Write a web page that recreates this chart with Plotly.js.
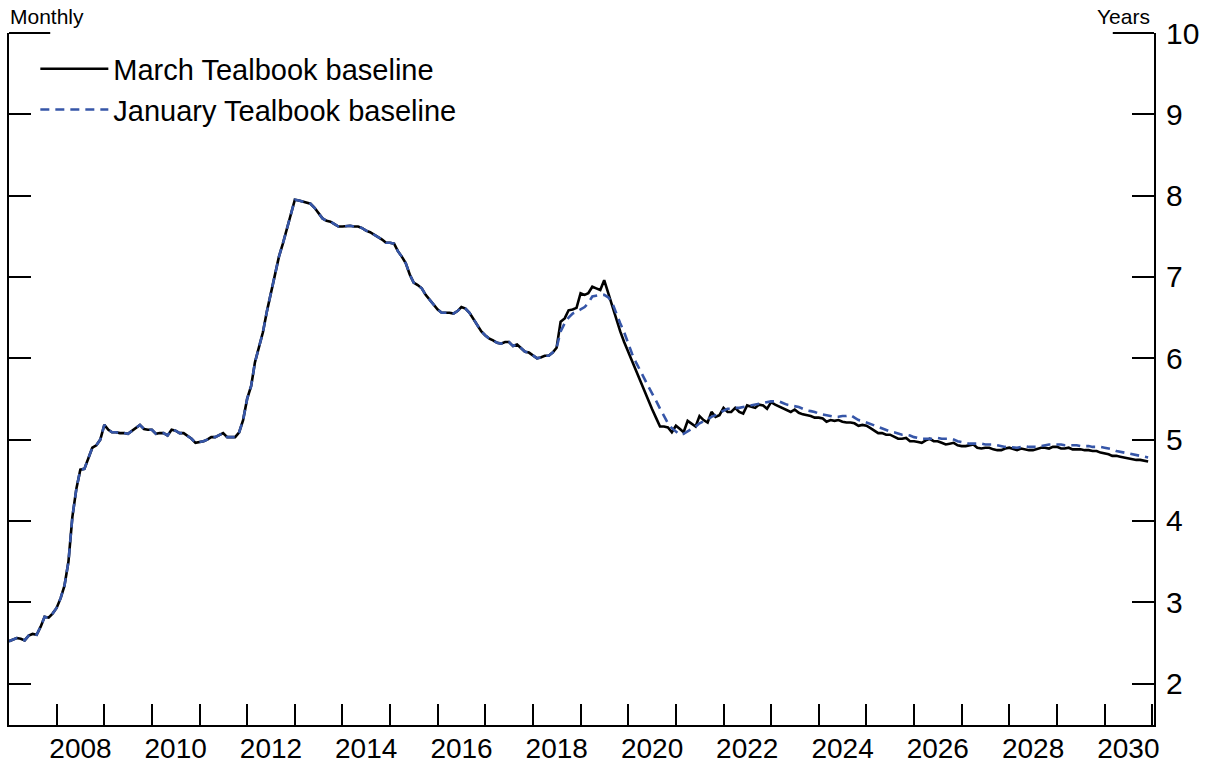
<!DOCTYPE html>
<html>
<head>
<meta charset="utf-8">
<script src="https://cdn.plot.ly/plotly-3.0.1.min.js"></script>
<style>
  html, body { margin: 0; padding: 0; background: #fff; }
  #chart { width: 1218px; height: 765px; }
</style>
</head>
<body>
<div id="chart"></div>
<script>
// Monthly series, first observation January 2007 (years).
const startYear = 2007;

// Common history, Jan 2007 - Jul 2018
const history = [
  2.52, 2.54, 2.56, 2.55, 2.53, 2.59, 2.61, 2.60, 2.70, 2.82, 2.81, 2.86,
  2.93, 3.05, 3.20, 3.50, 4.05, 4.40, 4.63, 4.64, 4.78, 4.90, 4.93, 5.00,
  5.18, 5.12, 5.09, 5.09, 5.08, 5.08, 5.07, 5.11, 5.15, 5.18, 5.13, 5.12,
  5.12, 5.07, 5.08, 5.08, 5.05, 5.12, 5.11, 5.08, 5.08, 5.05, 5.01, 4.96,
  4.97, 4.98, 5.00, 5.03, 5.03, 5.06, 5.08, 5.03, 5.03, 5.03, 5.09, 5.24,
  5.50, 5.66, 5.95, 6.15, 6.32, 6.58, 6.80, 7.00, 7.25, 7.41, 7.60, 7.78,
  7.95, 7.94, 7.93, 7.92, 7.90, 7.85, 7.78, 7.72, 7.69, 7.68, 7.65, 7.62,
  7.62, 7.63, 7.63, 7.62, 7.62, 7.60, 7.57, 7.55, 7.52, 7.50, 7.46, 7.42,
  7.42, 7.41, 7.32, 7.25, 7.17, 7.03, 6.93, 6.90, 6.86, 6.78, 6.72, 6.66,
  6.60, 6.56, 6.56, 6.56, 6.55, 6.58, 6.63, 6.61, 6.56, 6.48, 6.40, 6.33,
  6.28, 6.24, 6.22, 6.19, 6.18, 6.20, 6.20, 6.15, 6.17, 6.12, 6.08, 6.07,
  6.04, 6.00, 6.01, 6.03, 6.03, 6.07, 6.13
];

// March Tealbook baseline, Aug 2018 - Dec 2030
const marchProjection = [
  6.45, 6.49, 6.59, 6.60, 6.62,
  6.80, 6.78, 6.80, 6.88, 6.86, 6.84, 6.96, 6.80, 6.62, 6.48, 6.33, 6.20,
  6.08, 5.96, 5.83, 5.72, 5.61, 5.48, 5.38, 5.27, 5.16, 5.16, 5.15, 5.09,
  5.17, 5.13, 5.09, 5.23, 5.20, 5.16, 5.29, 5.24, 5.21, 5.34, 5.28, 5.30,
  5.39, 5.34, 5.34, 5.39, 5.34, 5.32, 5.42, 5.40, 5.39, 5.43, 5.42, 5.38,
  5.46, 5.43, 5.41, 5.39, 5.36, 5.34, 5.37, 5.33, 5.31, 5.30, 5.29, 5.27,
  5.27, 5.26, 5.22, 5.24, 5.23, 5.24, 5.22, 5.21, 5.21, 5.20, 5.17, 5.18,
  5.17, 5.14, 5.11, 5.08, 5.08, 5.06, 5.06, 5.04, 5.01, 5.01, 5.02, 4.98,
  4.98, 4.97, 4.96, 4.99, 5.01, 4.98, 4.98, 4.96, 4.94, 4.95, 4.96, 4.93,
  4.92, 4.92, 4.93, 4.94, 4.90, 4.89, 4.90, 4.90, 4.88, 4.87, 4.87, 4.89,
  4.90, 4.88, 4.87, 4.89, 4.88, 4.87, 4.87, 4.89, 4.90, 4.90, 4.89, 4.91,
  4.91, 4.89, 4.89, 4.90, 4.88, 4.88, 4.88, 4.87, 4.87, 4.86, 4.86, 4.84,
  4.83, 4.82, 4.80, 4.80, 4.79, 4.78, 4.77, 4.76, 4.75, 4.75, 4.74, 4.73
];

// January Tealbook baseline, Aug 2018 - Dec 2030
const januaryProjection = [
  6.33, 6.43, 6.50, 6.55, 6.57,
  6.60, 6.63, 6.68, 6.76, 6.77, 6.78, 6.78, 6.75, 6.68, 6.55, 6.43, 6.32,
  6.18, 6.05, 5.95, 5.86, 5.76, 5.66, 5.58, 5.48, 5.38, 5.30, 5.20, 5.14,
  5.10, 5.06, 5.07, 5.10, 5.13, 5.16, 5.20, 5.22, 5.25, 5.28, 5.30, 5.33,
  5.36, 5.38, 5.38, 5.39, 5.39, 5.40, 5.41, 5.42, 5.43, 5.44, 5.45, 5.46,
  5.47, 5.47, 5.47, 5.45, 5.43, 5.42, 5.41, 5.40, 5.38, 5.36, 5.35, 5.34,
  5.32, 5.31, 5.30, 5.29, 5.28, 5.28, 5.29, 5.29, 5.30, 5.27, 5.24, 5.23,
  5.21, 5.19, 5.17, 5.15, 5.14, 5.12, 5.10, 5.09, 5.07, 5.06, 5.06, 5.05,
  5.03, 5.02, 5.01, 5.01, 5.01, 5.01, 5.02, 5.01, 5.01, 5.01, 5.00, 4.98,
  4.97, 4.96, 4.95, 4.95, 4.95, 4.95, 4.94, 4.94, 4.94, 4.93, 4.92, 4.91,
  4.91, 4.90, 4.90, 4.91, 4.92, 4.91, 4.91, 4.91, 4.92, 4.93, 4.94, 4.94,
  4.94, 4.94, 4.93, 4.93, 4.93, 4.93, 4.92, 4.92, 4.92, 4.91, 4.91, 4.91,
  4.90, 4.89, 4.88, 4.86, 4.85, 4.84, 4.83, 4.82, 4.81, 4.80, 4.79, 4.78
];

const seriesNames = ['March Tealbook baseline', 'January Tealbook baseline'];
const labelYears = [2008, 2010, 2012, 2014, 2016, 2018, 2020, 2022, 2024, 2026, 2028, 2030];
const yTicks = [2, 3, 4, 5, 6, 7, 8, 9, 10];

const march = history.concat(marchProjection);
const january = history.concat(januaryProjection);

function monthDate(i) {
  const y = startYear + Math.floor(i / 12);
  const m = (i % 12) + 1;
  return y + '-' + String(m).padStart(2, '0') + '-01';
}
const dates = march.map((_, i) => monthDate(i));

// year-start tick marks, labels centred mid-year
const yearStarts = [];
for (let y = startYear + 1; y <= 2031; y++) yearStarts.push(y + '-01-01');
const labelPos = labelYears.map(y => y + '-07-02');

const font = 'Liberation Sans, Arial, Helvetica, sans-serif';

const traces = [
  {
    x: dates, y: march, name: seriesNames[0], type: 'scatter', mode: 'lines',
    line: { color: '#000000', width: 2.6 }
  },
  {
    x: dates, y: january, name: seriesNames[1], type: 'scatter', mode: 'lines',
    line: { color: '#3656a8', width: 2.6, dash: '9px,6px' }
  }
];

const layout = {
  width: 1218, height: 765,
  margin: { l: 9, r: 64, t: 33, b: 40 },
  paper_bgcolor: '#fff', plot_bgcolor: '#fff',
  font: { family: font, color: '#000' },
  showlegend: true,
  legend: {
    x: 0.023, y: 0.985, xanchor: 'left', yanchor: 'top',
    bgcolor: 'rgba(0,0,0,0)', borderwidth: 0,
    font: { size: 29, family: font },
    itemwidth: 68, tracegroupgap: 0
  },
  xaxis: {
    type: 'date',
    range: ['2007-01-01', '2031-01-15'],
    showgrid: false, zeroline: false,
    showline: true, linecolor: '#000', linewidth: 2,
    tickmode: 'array', tickvals: labelPos, ticktext: labelYears.map(String),
    ticks: '', ticklen: 0,
    tickfont: { size: 28, family: font },
    ticklabelstandoff: -3,
    minor: {
      tickmode: 'array', tickvals: yearStarts,
      ticks: 'inside', ticklen: 21, tickwidth: 2, tickcolor: '#000',
      showgrid: false
    }
  },
  yaxis: {
    side: 'right',
    range: [1.49, 10],
    showgrid: false, zeroline: false,
    showline: true, linecolor: '#000', linewidth: 2, mirror: 'ticks',
    tickmode: 'array', tickvals: yTicks, ticktext: yTicks.map(String),
    ticks: 'inside', ticklen: 22, tickwidth: 2, tickcolor: '#000',
    tickfont: { size: 30, family: font },
    ticklabelstandoff: 4
  },
  shapes: [
    { type: 'line', xref: 'paper', yref: 'paper', x0: 0, x1: 0.036, y0: 1, y1: 1,
      line: { color: '#000', width: 2 } },
    { type: 'line', xref: 'paper', yref: 'paper', x0: 0.964, x1: 1, y0: 1, y1: 1,
      line: { color: '#000', width: 2 } }
  ],
  annotations: [
    { text: 'Monthly', xref: 'paper', yref: 'paper', x: 0, y: 1, xanchor: 'left', yanchor: 'bottom',
      yshift: 3, xshift: -1, showarrow: false, font: { size: 21, family: font } },
    { text: 'Years', xref: 'paper', yref: 'paper', x: 1, y: 1, xanchor: 'right', yanchor: 'bottom',
      yshift: 3, xshift: -2, showarrow: false, font: { size: 21, family: font } }
  ]
};

Plotly.newPlot('chart', traces, layout, { displayModeBar: false, staticPlot: true });
</script>
</body>
</html>
